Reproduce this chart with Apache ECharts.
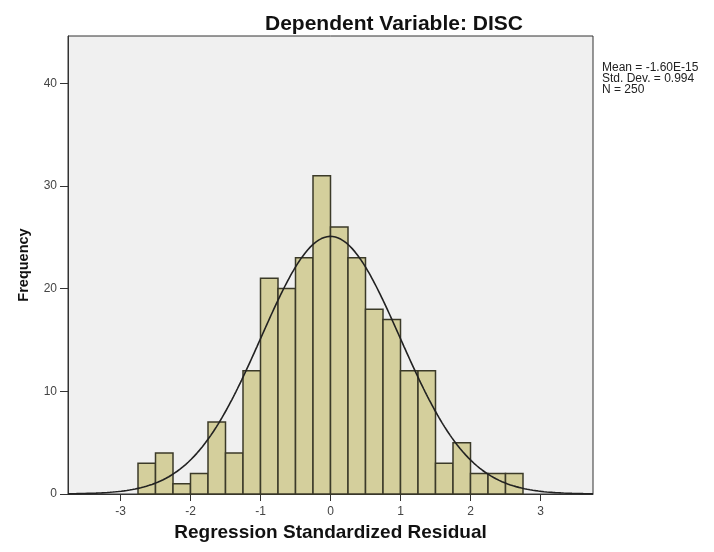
<!DOCTYPE html>
<html>
<head>
<meta charset="utf-8">
<script src="https://cdn.jsdelivr.net/npm/echarts@6/dist/echarts.min.js"></script>
<style>
html,body{margin:0;padding:0;background:#fff;}
#chart{width:714px;height:552px;}
</style>
</head>
<body>
<div id="chart"></div>
<script>
// Histogram bins (lower edges, width 0.25) and counts
var binStarts = [-2.75,-2.5,-2.25,-2.0,-1.75,-1.5,-1.25,-1.0,-0.75,-0.5,-0.25,0.0,0.25,0.5,0.75,1.0,1.25,1.5,1.75,2.0,2.25,2.5];
var counts    = [3,4,1,2,7,4,12,21,20,23,31,26,23,18,17,12,12,3,5,2,2,2];
var binWidth = 0.25;
// Normal curve parameters (as stated in the chart)
var curveMean = 0;
var curveSD = 0.994;
var curveN = 250;
var xTicks = [-3,-2,-1,0,1,2,3];
var yTicks = [0,10,20,30,40];
var statLines = ['Mean = -1.60E-15','Std. Dev. = 0.994','N = 250'];

var barData = binStarts.map(function(s,i){ return [s, s+binWidth, counts[i]]; });
var curveData = [];
for (var k = 0; k <= 375; k++) {
  var x = -3.75 + k*0.02;
  var z = (x-curveMean)/curveSD;
  curveData.push([x, curveN*binWidth/(curveSD*Math.sqrt(2*Math.PI))*Math.exp(-0.5*z*z)]);
}

var FONT = 'Arial, "Liberation Sans", sans-serif';
var chart = echarts.init(document.getElementById('chart'));
chart.setOption({
  animation: false,
  backgroundColor: '#ffffff',
  title: {
    text: 'Dependent Variable: DISC',
    left: 260, top: 9,
    textStyle: {fontFamily: FONT, fontSize: 21, fontWeight: 'bold', color: '#111'}
  },
  grid: {
    left: 68, right: 121, top: 36, bottom: 58,
    show: true, backgroundColor: '#f0f0f0', borderColor: '#333', borderWidth: 1
  },
  xAxis: {
    type: 'value', min: -3.75, max: 3.75,
    name: 'Regression Standardized Residual', nameLocation: 'middle', nameGap: 27,
    nameTextStyle: {fontFamily: FONT, fontSize: 19, fontWeight: 'bold', color: '#111'},
    splitLine: {show: false},
    axisLine: {show: true, onZero: false, lineStyle: {color: '#333'}},
    axisTick: {show: true, length: 7, customValues: xTicks, lineStyle: {color: '#333'}},
    axisLabel: {customValues: xTicks, fontFamily: FONT, fontSize: 12, color: '#444', margin: 12}
  },
  yAxis: {
    type: 'value', min: 0, max: 44.6,
    name: 'Frequency', nameLocation: 'middle', nameGap: 37, nameRotate: 90,
    nameTextStyle: {fontFamily: FONT, fontSize: 14.5, fontWeight: 'bold', color: '#111'},
    splitLine: {show: false},
    axisLine: {show: true, onZero: false, lineStyle: {color: '#333'}},
    axisTick: {show: true, length: 8, customValues: yTicks, lineStyle: {color: '#333'}},
    axisLabel: {customValues: yTicks, fontFamily: FONT, fontSize: 12, color: '#444', margin: 11}
  },
  graphic: [{
    type: 'text', left: 602, top: 62,
    style: {text: statLines.join('\n'), fontFamily: FONT, fontSize: 12, lineHeight: 11, fill: '#222'}
  }],
  series: [{
    type: 'custom',
    data: barData,
    encode: {x: [0,1], y: 2},
    renderItem: function(params, api){
      var p0 = api.coord([api.value(0), api.value(2)]);
      var p1 = api.coord([api.value(1), 0]);
      return {
        type: 'rect',
        shape: {x: p0[0], y: p0[1], width: p1[0]-p0[0], height: p1[1]-p0[1]},
        style: {fill: '#d4cf9c', stroke: '#3b3a28', lineWidth: 1.5}
      };
    },
    z: 2
  }, {
    type: 'line',
    data: curveData,
    showSymbol: false,
    symbol: 'none',
    lineStyle: {color: '#222', width: 1.6},
    z: 3
  }]
});
</script>
</body>
</html>
